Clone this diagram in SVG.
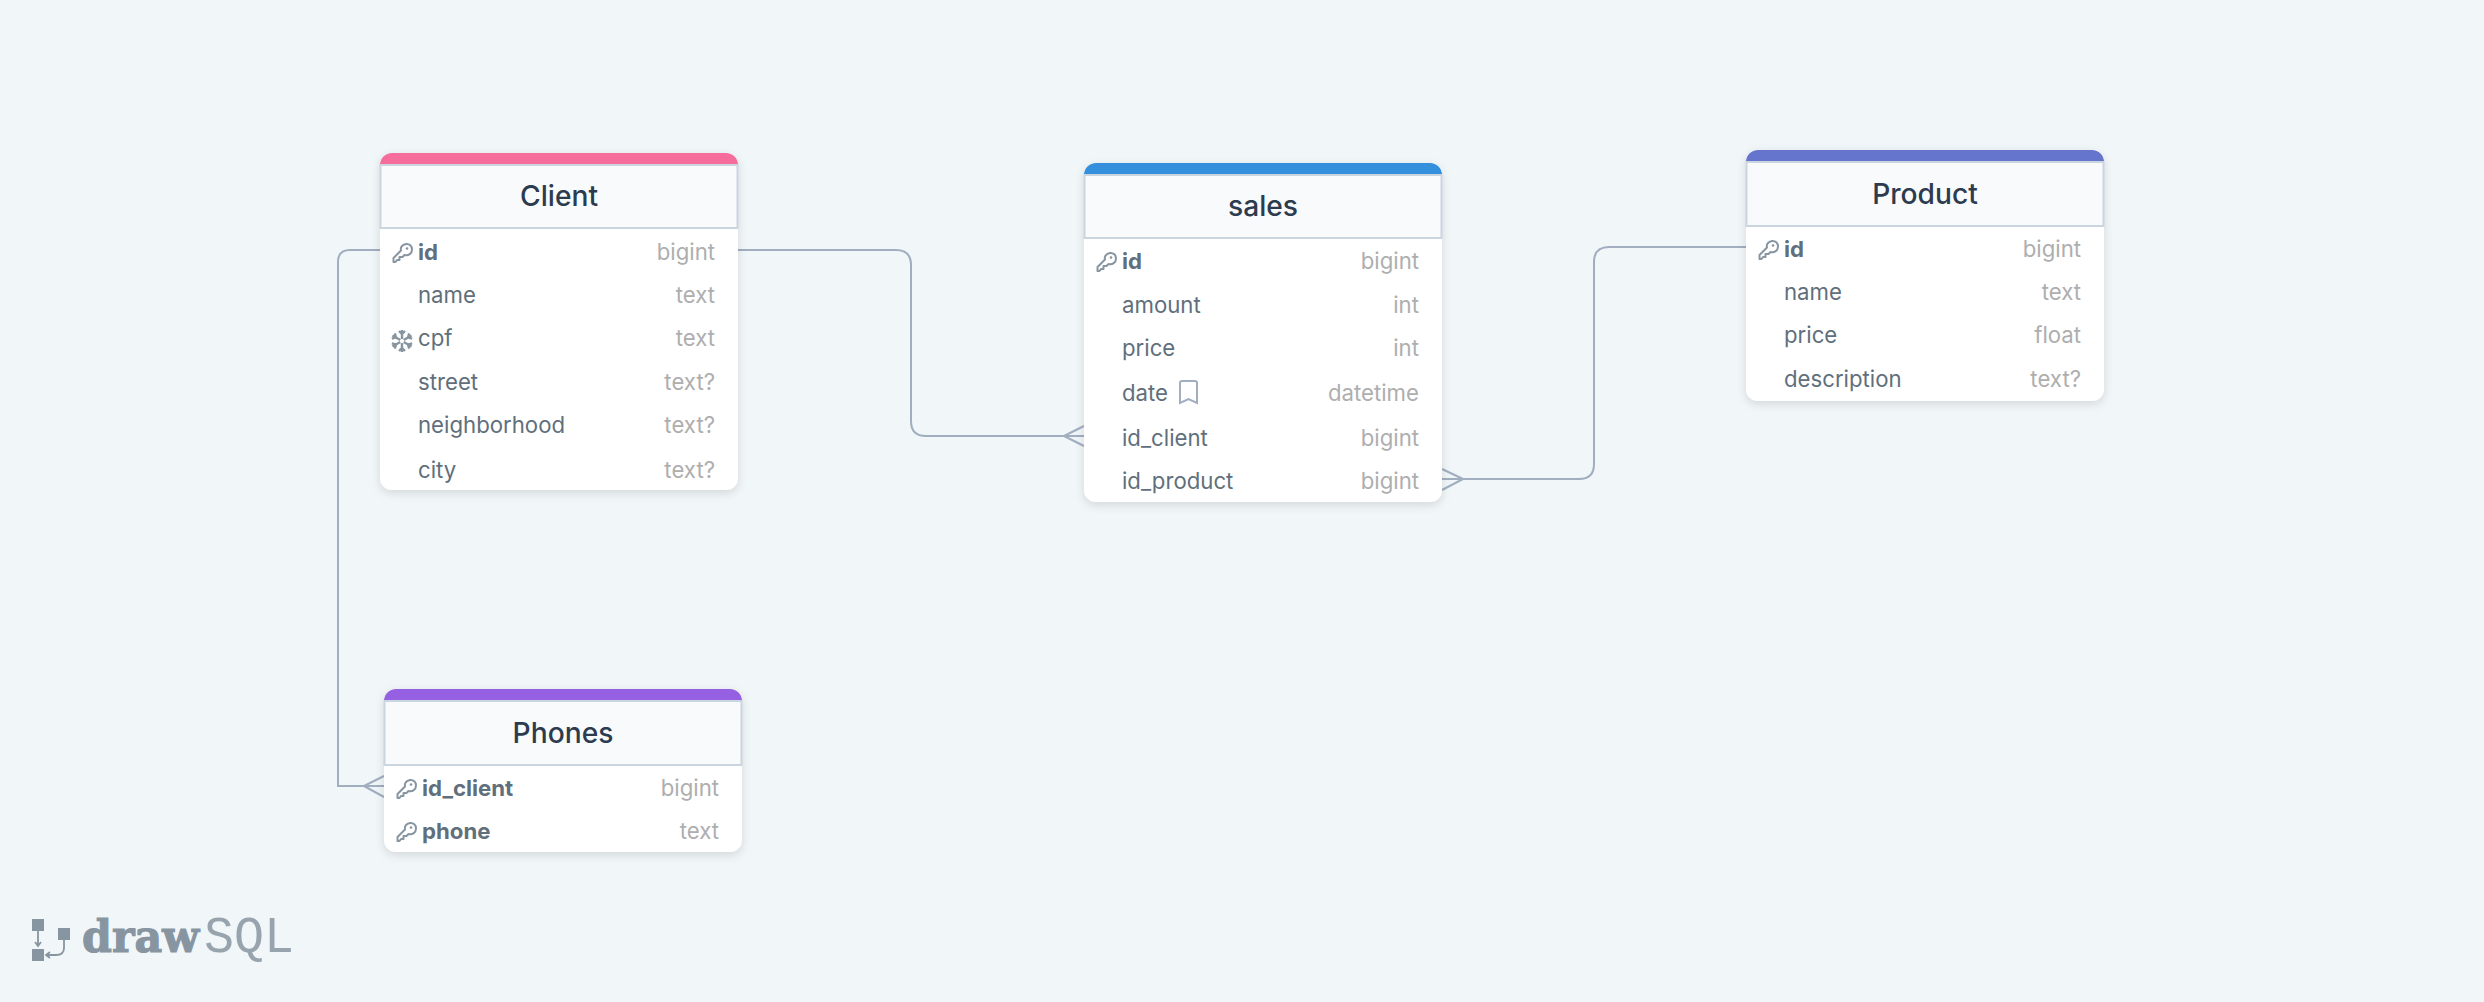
<svg xmlns="http://www.w3.org/2000/svg" width="2484" height="1002" viewBox="0 0 2484 1002">
<style>
text{font-family:Inter,"Liberation Sans",sans-serif}
.card{fill:#fff;filter:url(#sh)}
.hd{fill:#f8fafc;stroke:#cbd5e0;stroke-width:2}
.title{font-size:28.200px;font-weight:500;fill:#2d3b4f;text-anchor:middle}
.f{font-size:22.200px;fill:#606f7b}
.b{font-weight:700}
.t{font-size:22.200px;fill:#aeaeae;text-anchor:end}
.c{fill:none;stroke:#a0aec0;stroke-width:2}
.ic{fill:none;stroke:#8795a1;stroke-width:2;stroke-linejoin:round;stroke-linecap:round}
</style>
<defs>
<filter id="sh" x="-10%" y="-10%" width="120%" height="125%"><feDropShadow dx="0" dy="3" stdDeviation="5" flood-color="#000" flood-opacity="0.13"/></filter>
<g id="key"><path class="ic" d="M.5 18.500v-3.500l7.500-7.500c-.8-3 1-6 5-6.500 3.500-.3 6 2 6 5.500 0 4-3.500 6.500-7.500 5.500l-2 2h-3v3h-2.500l-1.500 2h-2z"/><circle cx="14" cy="5.500" r="1.300" fill="#8795a1"/></g>
<path id="arm" d="M0-2V-11M-3-10L0-7L3-10"/>
</defs>
<rect width="2484" height="1002" fill="#f1f6f9"/>

<g id="connectors">
<path class="c" d="M380 250H350Q338 250 338 262V786H384M364 786L384 776M364 786L384 797"/>
<path class="c" d="M738 250H896Q911 250 911 265V421Q911 436 926 436H1084M1064 436L1084 426M1064 436L1084 446"/>
<path class="c" d="M1442 479H1579Q1594 479 1594 464V262Q1594 247 1609 247H1746M1463 479L1442 469M1463 479L1442 490"/>
</g>

<g id="client">
<rect class="card" x="380" y="153" width="358" height="337" rx="12"/>
<path fill="#f66d9b" d="M380 165a12 12 0 0 1 12-12h334a12 12 0 0 1 12 12z"/>
<rect class="hd" x="380.500" y="165" width="357" height="63"/>
<text class="title" x="559" y="206">Client</text>
<use href="#key" x="393" y="243"/>
<text class="f b" x="418" y="260">id</text><text class="t" x="715" y="260">bigint</text>
<text class="f" x="418" y="303">name</text><text class="t" x="715" y="303">text</text>
<g transform="translate(402 341)" stroke="#8795a1" stroke-width="2.400" fill="none"><use href="#arm"/><use href="#arm" transform="rotate(60)"/><use href="#arm" transform="rotate(120)"/><use href="#arm" transform="rotate(180)"/><use href="#arm" transform="rotate(240)"/><use href="#arm" transform="rotate(300)"/></g>
<text class="f" x="418" y="346">cpf</text><text class="t" x="715" y="346">text</text>
<text class="f" x="418" y="390">street</text><text class="t" x="715" y="390">text?</text>
<text class="f" x="418" y="433">neighborhood</text><text class="t" x="715" y="433">text?</text>
<text class="f" x="418" y="478">city</text><text class="t" x="715" y="478">text?</text>
</g>

<g id="sales">
<rect class="card" x="1084" y="163" width="358" height="339" rx="12"/>
<path fill="#3490dc" d="M1084 175a12 12 0 0 1 12-12h334a12 12 0 0 1 12 12z"/>
<rect class="hd" x="1084.500" y="175" width="357" height="63"/>
<text class="title" x="1263" y="216">sales</text>
<use href="#key" x="1097" y="252"/>
<text class="f b" x="1122" y="269">id</text><text class="t" x="1419" y="269">bigint</text>
<text class="f" x="1122" y="313">amount</text><text class="t" x="1419" y="313">int</text>
<text class="f" x="1122" y="356">price</text><text class="t" x="1419" y="356">int</text>
<text class="f" x="1122" y="401">date</text><text class="t" x="1419" y="401">datetime</text>
<path class="c" d="M1180 383a2 2 0 0 1 2-2h13a2 2 0 0 1 2 2v20l-8.500-4-8.500 4z"/>
<text class="f" x="1122" y="446">id_client</text><text class="t" x="1419" y="446">bigint</text>
<text class="f" x="1122" y="489">id_product</text><text class="t" x="1419" y="489">bigint</text>
</g>

<g id="product">
<rect class="card" x="1746" y="150" width="358" height="251" rx="12"/>
<path fill="#6574cd" d="M1746 162a12 12 0 0 1 12-12h334a12 12 0 0 1 12 12z"/>
<rect class="hd" x="1746.500" y="162" width="357" height="64"/>
<text class="title" x="1925" y="204">Product</text>
<use href="#key" x="1759" y="240"/>
<text class="f b" x="1784" y="257">id</text><text class="t" x="2081" y="257">bigint</text>
<text class="f" x="1784" y="300">name</text><text class="t" x="2081" y="300">text</text>
<text class="f" x="1784" y="343">price</text><text class="t" x="2081" y="343">float</text>
<text class="f" x="1784" y="387">description</text><text class="t" x="2081" y="387">text?</text>
</g>

<g id="phones">
<rect class="card" x="384" y="689" width="358" height="163" rx="12"/>
<path fill="#9561e2" d="M384 701a12 12 0 0 1 12-12h334a12 12 0 0 1 12 12z"/>
<rect class="hd" x="384.500" y="701" width="357" height="64"/>
<text class="title" x="563" y="743">Phones</text>
<use href="#key" x="397" y="779"/>
<text class="f b" x="422" y="796">id_client</text><text class="t" x="719" y="796">bigint</text>
<use href="#key" x="397" y="822"/>
<text class="f b" x="422" y="839">phone</text><text class="t" x="719" y="839">text</text>
</g>

<g id="logo">
<rect x="32" y="919" width="12" height="12" fill="#8795a1"/>
<rect x="58" y="928" width="12" height="12" fill="#8795a1"/>
<rect x="32" y="949" width="12" height="12" fill="#8795a1"/>
<path fill="none" stroke="#8795a1" stroke-width="1.800" d="M38 931V945M35 942L38 946L41 942M64 940V948Q64 955 56 955H47M50 952L46 955L50 958"/>
<text x="82" y="952" font-size="45" font-weight="700" fill="#8795a1" stroke="#8795a1" stroke-width="1.200" textLength="117" lengthAdjust="spacingAndGlyphs" style="font-family:'DejaVu Serif',serif">draw</text>
<text x="204" y="952" font-size="51" fill="#8795a1" fill-opacity=".85" textLength="90" lengthAdjust="spacingAndGlyphs" style="font-family:'Liberation Mono',monospace">SQL</text>
</g>
</svg>
